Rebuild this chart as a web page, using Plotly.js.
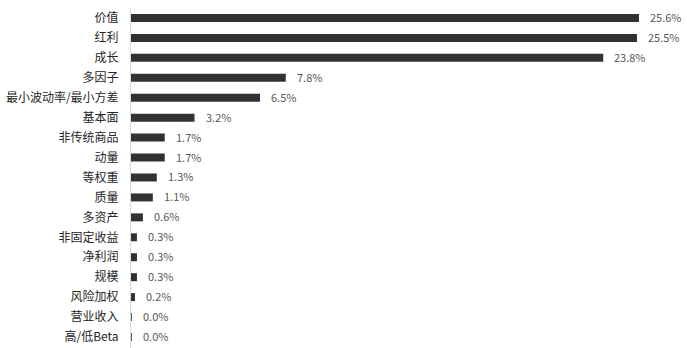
<!DOCTYPE html>
<html>
<head>
<meta charset="utf-8">
<script src="https://cdn.plot.ly/plotly-3.0.1.min.js"></script>
<style>html,body{margin:0;padding:0;background:#fff;}#chart{width:687px;height:348px;}</style>
</head>
<body>
<div id="chart"></div>
<script>
const categories = ["价值","红利","成长","多因子","最小波动率/最小方差","基本面","非传统商品","动量","等权重","质量","多资产","非固定收益","净利润","规模","风险加权","营业收入","高/低Beta"];
const values = [25.6,25.5,23.8,7.8,6.5,3.2,1.7,1.7,1.3,1.1,0.6,0.3,0.3,0.3,0.2,0.04,0.04];

const annotations = categories.map((c,i)=>({
  x: values[i], y: c, xref:'x', yref:'y',
  text: values[i].toFixed(1)+'%', showarrow:false,
  xanchor:'left', xshift:9, yshift:1,
  font:{family:'"Noto Sans CJK SC", "Noto Sans", sans-serif', size:11, color:'#595959'}
}));

Plotly.newPlot('chart',[{
  type:'bar', orientation:'h', x: values, y: categories,
  marker:{color:'#323232'}, hoverinfo:'none'
}],{
  width:687, height:348,
  margin:{l:131,r:0,t:8,b:0},
  paper_bgcolor:'#fff', plot_bgcolor:'#fff',
  bargap:0.6, showlegend:false,
  xaxis:{range:[0,28.02], visible:false, fixedrange:true},
  yaxis:{autorange:'reversed', showline:true, linecolor:'#d9d9d9', linewidth:1,
    ticks:'', showgrid:false, ticklabelstandoff:9,
    tickfont:{family:'"Noto Sans CJK SC", "Noto Sans", sans-serif', size:12, color:'#262626'}},
  annotations: annotations
},{staticPlot:true});
</script>
</body>
</html>
